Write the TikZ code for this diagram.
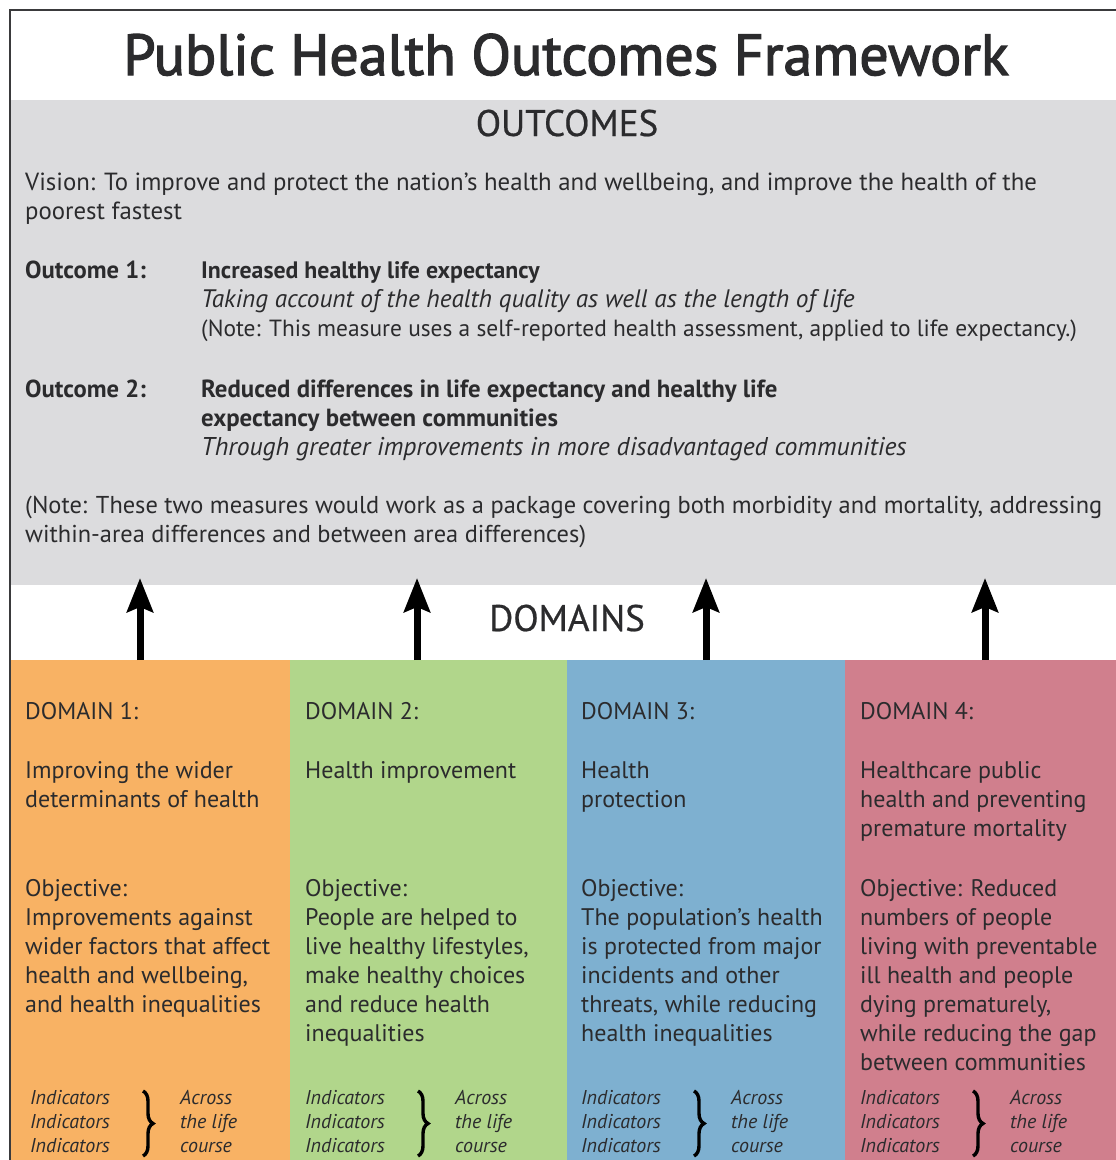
\documentclass[tikz,border=0pt]{standalone}
\usepackage{fontspec}
\setmainfont{PT Sans}
\newfontfamily\titlefont[FakeBold=2.2]{PT Sans}
\newfontfamily\headfont[FakeBold=0.6]{PT Sans}
\usetikzlibrary{arrows.meta,decorations.pathreplacing}
\definecolor{txtcol}{HTML}{2B2B2D}
\definecolor{framecol}{HTML}{3A3A3C}
\definecolor{greyband}{HTML}{DCDCDE}
\definecolor{orangecol}{HTML}{F8B264}
\definecolor{greencol}{HTML}{B1D68B}
\definecolor{bluecol}{HTML}{7EB0D0}
\definecolor{pinkcol}{HTML}{D07F8D}
\newcommand{\ml}[1]{\begin{tabular}[t]{@{}l@{}}#1\end{tabular}}
\begin{document}
\begin{tikzpicture}[x=1pt,y=-1pt,
  txt/.style={anchor=base west, inner sep=0pt, text=txtcol, font=\fontsize{24}{29}\selectfont},
  otxt/.style={anchor=base west, inner sep=0pt, text=txtcol, font=\fontsize{24.6}{29}\selectfont},
  hdr/.style={anchor=base, inner sep=0pt, text=txtcol, font=\fontsize{37}{42}\selectfont\headfont},
  ind/.style={anchor=base west, inner sep=0pt, text=txtcol, font=\fontsize{20}{24}\selectfont\itshape},
  upar/.style={line width=7pt, draw=black, -{Stealth[length=34pt,width=26pt,inset=5pt]}},
  brc/.style={decorate, decoration={brace, amplitude=10pt}, line width=3.4pt, draw=black}
]
\useasboundingbox (0,0) rectangle (1116,1160);
% bands
\fill[white] (0,0) rectangle (1116,1160);
\fill[greyband] (10,100) rectangle (1116,585);
\fill[orangecol] (10,660) rectangle (290,1160);
\fill[greencol] (290,660) rectangle (567,1160);
\fill[bluecol] (567,660) rectangle (845,1160);
\fill[pinkcol] (845,660) rectangle (1116,1160);
\draw[line width=2.5pt, framecol] (10,1160) -- (10,10) -- (1116,10);

% title
\node[anchor=base, inner sep=0pt, text=txtcol, font=\fontsize{58}{64}\selectfont\titlefont] (title) at (566,75) {Public Health Outcomes Framework};
\node[hdr] (outcomes) at (567,136) {OUTCOMES};
\node[hdr] (domains) at (567,631) {DOMAINS};

% outcomes text
\node[otxt, font=\fontsize{24.8}{29}\selectfont] (vision) at (25,190) {\ml{Vision: To improve and protect the nation’s health and wellbeing, and improve the health of the\\poorest fastest}};
\node[otxt, font=\fontsize{24.6}{29}\selectfont\bfseries] (o1lab) at (25,278) {Outcome 1:};
\node[otxt] (o1txt) at (201,278) {\ml{{\fontsize{23.8}{29}\selectfont\bfseries Increased healthy life expectancy}\\{\fontsize{25.3}{29}\selectfont\itshape Taking account of the health quality as well as the length of life}\\{\fontsize{23.4}{29}\selectfont (Note: This measure uses a self-reported health assessment, applied to life expectancy.)}}};
\node[otxt, font=\fontsize{24.6}{29}\selectfont\bfseries] (o2lab) at (25,397) {Outcome 2:};
\node[otxt] (o2txt) at (201,397) {\ml{{\fontsize{24.8}{29}\selectfont\bfseries Reduced differences in life expectancy and healthy life}\\{\fontsize{24.8}{29}\selectfont\bfseries expectancy between communities}\\{\fontsize{25.7}{29}\selectfont\itshape Through greater improvements in more disadvantaged communities}}};
\node[otxt, font=\fontsize{24.4}{29}\selectfont] (note) at (25,513) {\ml{(Note: These two measures would work as a package covering both morbidity and mortality, addressing\\within-area differences and between area differences)}};

% arrows
\foreach \i/\x in {1/140,2/417,3/706,4/985}{
  \coordinate (as\i) at (\x,660);
  \coordinate (ae\i) at (\x,578);
  \draw[upar] (as\i) -- (ae\i);
}

% domain columns
\node[txt] (d1h) at (25,719) {DOMAIN 1:};
\node[txt] (d1d) at (25,778) {\ml{Improving the wider\\determinants of health}};
\node[txt] (d1o) at (25,896) {\ml{Objective:\\Improvements against\\wider factors that affect\\health and wellbeing,\\and health inequalities}};

\node[txt] (d2h) at (305,719) {DOMAIN 2:};
\node[txt] (d2d) at (305,778) {Health improvement};
\node[txt] (d2o) at (305,896) {\ml{Objective:\\People are helped to\\live healthy lifestyles,\\make healthy choices\\and reduce health\\inequalities}};

\node[txt] (d3h) at (581,719) {DOMAIN 3:};
\node[txt] (d3d) at (581,778) {\ml{Health\\protection}};
\node[txt] (d3o) at (581,896) {\ml{Objective:\\The population’s health\\is protected from major\\incidents and other\\threats, while reducing\\health inequalities}};

\node[txt] (d4h) at (860,719) {DOMAIN 4:};
\node[txt] (d4d) at (860,778) {\ml{Healthcare public\\health and preventing\\premature mortality}};
\node[txt] (d4o) at (860,896) {\ml{Objective: Reduced\\numbers of people\\living with preventable\\ill health and people\\dying prematurely,\\while reducing the gap\\between communities}};

% indicators
\foreach \i/\x in {1/30,2/305,3/581,4/860}{
  \node[ind] (ind\i) at (\x,1104) {\ml{Indicators\\Indicators\\Indicators}};
  \node[ind] (acr\i) at (\x+150,1104) {\ml{Across\\the life\\course}};
  \coordinate (bt\i) at (\x+113,1091);
  \coordinate (bb\i) at (\x+113,1156);
  \draw[brc] (bt\i) -- (bb\i);
}
\end{tikzpicture}
\end{document}
